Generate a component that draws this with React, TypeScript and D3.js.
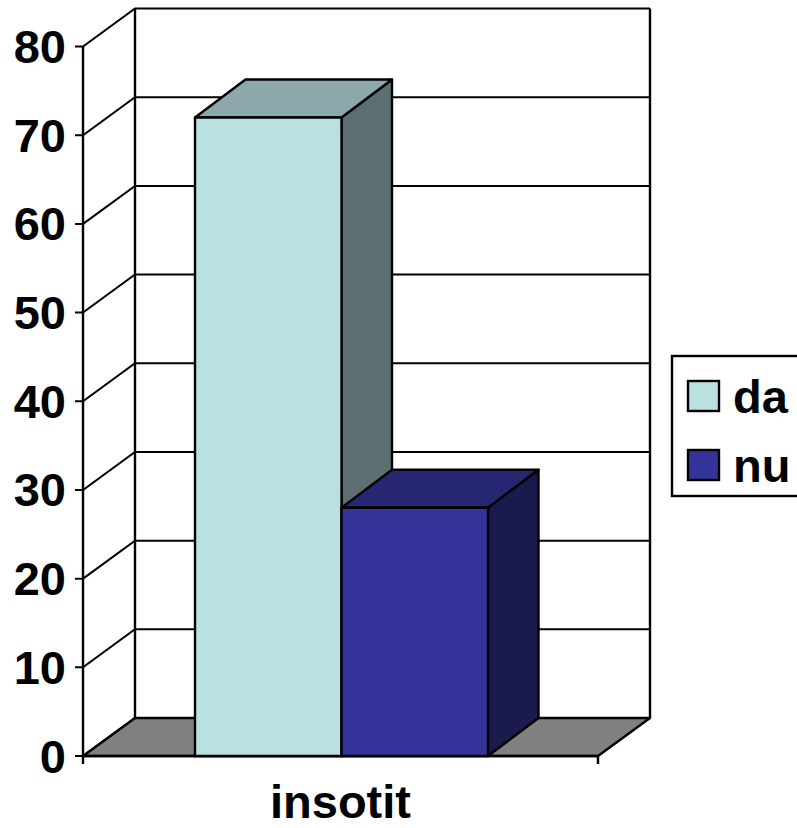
import React from 'react'
import * as d3 from 'd3'

const categories = ['insotit']
const seriesNames = ['da', 'nu']
const seriesValues = [72, 28]
const seriesColors = ['#BAE0E2', '#333399']
const yTicks = [0, 10, 20, 30, 40, 50, 60, 70, 80]

const width = 797
const height = 828
const depth = { dx: 52, dy: -38 }
const barDepth = { dx: 50.5, dy: -38 }
const font = '"Liberation Sans", Arial, sans-serif'
const ink = '#000'
const lineW = 2.4

const y = d3.scaleLinear().domain([0, 80]).range([756, 46.5])
const x = d3.scaleBand().domain(categories).range([83, 598])
const xBar = d3.scaleBand().domain(seriesNames).range([195, 488])
const line = d3.line()

// 3D faces are the series colour scaled down
const shade = (color: string, k: number) => {
  const c = d3.rgb(color)
  return d3.rgb(c.r * k, c.g * k, c.b * k).formatHex()
}

export default function App() {
  const left = x.range()[0]
  const right = x.range()[1]
  const y0 = y(0)

  return (
    <svg width={width} height={height} style={{ position: 'absolute', left: 0, top: 0 }}>
      {/* floor */}
      <path
        d={line([[left, y0], [left + depth.dx, y0 + depth.dy], [right + depth.dx, y0 + depth.dy], [right, y0]]) + 'Z'}
        fill="#808080" stroke={ink} strokeWidth={lineW} strokeLinejoin="round"
      />

      {/* grid lines: side wall and back wall */}
      {yTicks.map(t => (
        <path
          key={t}
          d={line([[left - 8, y(t)], [left, y(t)], [left + depth.dx, y(t) + depth.dy], [right + depth.dx, y(t) + depth.dy]]) ?? ''}
          fill="none" stroke={ink} strokeWidth={2}
        />
      ))}

      {/* walls and axes */}
      <path d={line([[left, y0 + 8], [left, y(80)]]) ?? ''} stroke={ink} strokeWidth={lineW} />
      <path d={line([[left + depth.dx, y0 + depth.dy], [left + depth.dx, y(80) + depth.dy]]) ?? ''} stroke={ink} strokeWidth={lineW} />
      <path d={line([[right + depth.dx, y0 + depth.dy], [right + depth.dx, y(80) + depth.dy]]) ?? ''} stroke={ink} strokeWidth={lineW} />
      <path d={line([[left, y0], [right, y0], [right, y0 + 8]]) ?? ''} fill="none" stroke={ink} strokeWidth={lineW} />

      {/* bars */}
      {seriesNames.map((name, i) => {
        const x0 = xBar(name) ?? 0
        const x1 = x0 + xBar.bandwidth()
        const top = y(seriesValues[i])
        return (
          <g key={name} stroke={ink} strokeWidth={lineW} strokeLinejoin="round">
            <path
              d={line([[x1, top], [x1 + barDepth.dx, top + barDepth.dy], [x1 + barDepth.dx, y0 + barDepth.dy], [x1, y0]]) + 'Z'}
              fill={shade(seriesColors[i], 0.5)}
            />
            <path
              d={line([[x0, top], [x0 + barDepth.dx, top + barDepth.dy], [x1 + barDepth.dx, top + barDepth.dy], [x1, top]]) + 'Z'}
              fill={shade(seriesColors[i], 0.75)}
            />
            <rect x={x0} y={top} width={x1 - x0} height={y0 - top} fill={seriesColors[i]} />
          </g>
        )
      })}

      {/* y tick labels */}
      {yTicks.map(t => (
        <text key={t} x={66} y={y(t) + 16.5} textAnchor="end" fontFamily={font} fontWeight="bold" fontSize={47}>
          {t}
        </text>
      ))}

      {/* category label, kept high enough that its box stays on the page */}
      <text x={(x('insotit') ?? 0) + x.bandwidth() / 2} y={818} textAnchor="middle" fontFamily={font} fontWeight="bold" fontSize={47}>
        {categories[0]}
      </text>

      {/* legend */}
      <rect x={672} y={356} width={140} height={140} fill="#fff" stroke={ink} strokeWidth={lineW} />
      {seriesNames.map((name, i) => (
        <g key={name}>
          <rect x={688} y={381 + i * 69} width={31} height={30} fill={seriesColors[i]} stroke={ink} strokeWidth={lineW} />
          <text x={733} y={413 + i * 69} fontFamily={font} fontWeight="bold" fontSize={47}>
            {name}
          </text>
        </g>
      ))}
    </svg>
  )
}
